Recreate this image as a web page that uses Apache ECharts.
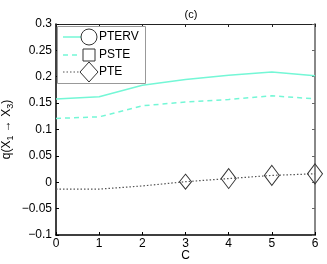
<!DOCTYPE html>
<html><head><meta charset="utf-8">
<script src="https://cdn.jsdelivr.net/npm/echarts@6/dist/echarts.min.js"></script>
<style>html,body{margin:0;padding:0;background:#fff}#c{width:327px;height:264px}</style>
</head><body><div id="c"></div>
<script>
const categories = [0, 1, 2, 3, 4, 5, 6];
const pterv = [0.158, 0.162, 0.184, 0.195, 0.203, 0.209, 0.202];
const pste = [0.121, 0.124, 0.145, 0.152, 0.157, 0.164, 0.158];
const pte = [-0.013, -0.013, -0.007, 0.001, 0.007, 0.013, 0.016];
const pteMarker = [0, 0, 0, 1, 1, 1, 1];
const seriesNames = ['PTERV', 'PSTE', 'PTE'];
const yTicks = ['-0.1', '-0.05', '0', '0.05', '0.1', '0.15', '0.2', '0.25', '0.3'];

const FONT = 'Liberation Sans';
const FS = 12;
const cyan = '#74f7d6';
const chart = echarts.init(document.getElementById('c'), null, {renderer: 'canvas'});
const pair = arr => categories.map((c, i) => [c, arr[i]]);
const fmtY = v => {
  const s = String(+v.toFixed(3));
  return s.replace('-', '\u2212');
};
const lx = 63, ly = [37, 55, 72];
chart.setOption({
  animation: false,
  textStyle: {fontFamily: FONT},
  title: {text: '(c)', left: 186, top: 4, textAlign: 'center',
    textStyle: {fontSize: 11, fontWeight: 'normal', color: '#000', fontFamily: FONT}},
  grid: {left: 56, right: 12, top: 24, bottom: 29, outerBoundsMode: 'none', containLabel: false},
  xAxis: [{
    type: 'value', min: 0, max: 6, interval: 1,
    name: 'C', nameLocation: 'middle', nameGap: 15, nameMoveOverlap: false,
    nameTextStyle: {fontSize: FS, color: '#000', fontFamily: FONT},
    axisLine: {onZero: false, lineStyle: {color: '#000', width: 1.5}},
    axisTick: {inside: true, length: 3, lineStyle: {color: '#000'}},
    axisLabel: {fontSize: FS, color: '#000', margin: 3, fontFamily: FONT},
    splitLine: {show: false}
  }, {
    type: 'value', min: 0, max: 6, interval: 1, position: 'top',
    axisLine: {onZero: false, lineStyle: {color: '#222', width: 1}},
    axisTick: {inside: true, length: 3, lineStyle: {color: '#222'}},
    axisLabel: {show: false}, splitLine: {show: false}
  }],
  yAxis: [{
    type: 'value', min: -0.1, max: 0.3, interval: 0.05,
    name: 'q(X{sub|1} \u2192 X{sub|3})', nameLocation: 'middle', nameRotate: 90, nameGap: 41, nameMoveOverlap: false,
    nameTextStyle: {fontSize: FS, color: '#000', fontFamily: FONT,
      rich: {sub: {fontSize: 9, verticalAlign: 'bottom', padding: [7, 0, 0, 0], fontFamily: FONT, color: '#000'}}},
    axisLine: {onZero: false, lineStyle: {color: '#000', width: 1.5}},
    axisTick: {inside: true, length: 3, lineStyle: {color: '#000'}},
    axisLabel: {fontSize: FS, color: '#000', margin: 4, fontFamily: FONT, formatter: fmtY},
    splitLine: {show: false}
  }, {
    type: 'value', min: -0.1, max: 0.3, interval: 0.05, position: 'right',
    axisLine: {onZero: false, lineStyle: {color: '#888', width: 2}},
    axisTick: {inside: true, length: 3, lineStyle: {color: '#666'}},
    axisLabel: {show: false}, splitLine: {show: false}
  }],
  series: [{
    name: seriesNames[0], type: 'line', data: pair(pterv), showSymbol: false, symbol: 'none',
    lineStyle: {color: cyan, width: 1.5}
  }, {
    name: seriesNames[1], type: 'line', data: pair(pste), showSymbol: false, symbol: 'none',
    lineStyle: {color: cyan, width: 1.5, type: [5, 4]}
  }, {
    name: seriesNames[2], type: 'line', data: pair(pte), symbol: 'diamond',
    symbolSize: (v, p) => pteMarker[p.dataIndex] ? (p.dataIndex === 3 ? [12, 15] : [15, 20]) : 0,
    itemStyle: {color: 'rgba(255,255,255,0)', borderColor: '#333', borderWidth: 1},
    lineStyle: {color: '#555', width: 1.2, type: [1.5, 2]}
  }],
  graphic: [
    {type: 'rect', shape: {x: 57.5, y: 26.5, width: 88, height: 57}, style: {fill: '#fff', stroke: '#999', lineWidth: 1}, z: 100},
    {type: 'line', shape: {x1: lx, y1: ly[0], x2: lx + 18, y2: ly[0]}, style: {stroke: cyan, lineWidth: 1.5}, z: 101},
    {type: 'circle', shape: {cx: 89, cy: ly[0], r: 8}, style: {fill: 'none', stroke: '#333', lineWidth: 1}, z: 101},
    {type: 'text', x: 99, y: ly[0], style: {text: seriesNames[0], fontSize: FS, fontFamily: FONT, fill: '#000', verticalAlign: 'middle'}, z: 101},
    {type: 'line', shape: {x1: lx, y1: ly[1], x2: lx + 18, y2: ly[1]}, style: {stroke: cyan, lineWidth: 1.5, lineDash: [5, 4]}, z: 101},
    {type: 'rect', shape: {x: 83, y: ly[1] - 6, width: 12, height: 12}, style: {fill: 'none', stroke: '#333', lineWidth: 1}, z: 101},
    {type: 'text', x: 99, y: ly[1], style: {text: seriesNames[1], fontSize: FS, fontFamily: FONT, fill: '#000', verticalAlign: 'middle'}, z: 101},
    {type: 'line', shape: {x1: lx, y1: ly[2], x2: lx + 18, y2: ly[2]}, style: {stroke: '#555', lineWidth: 1.2, lineDash: [1.5, 2]}, z: 101},
    {type: 'polygon', shape: {points: [[89, ly[2] - 10], [98, ly[2]], [89, ly[2] + 10], [80, ly[2]]]}, style: {fill: 'none', stroke: '#333', lineWidth: 1}, z: 101},
    {type: 'text', x: 99, y: ly[2], style: {text: seriesNames[2], fontSize: FS, fontFamily: FONT, fill: '#000', verticalAlign: 'middle'}, z: 101}
  ]
});
</script></body></html>
